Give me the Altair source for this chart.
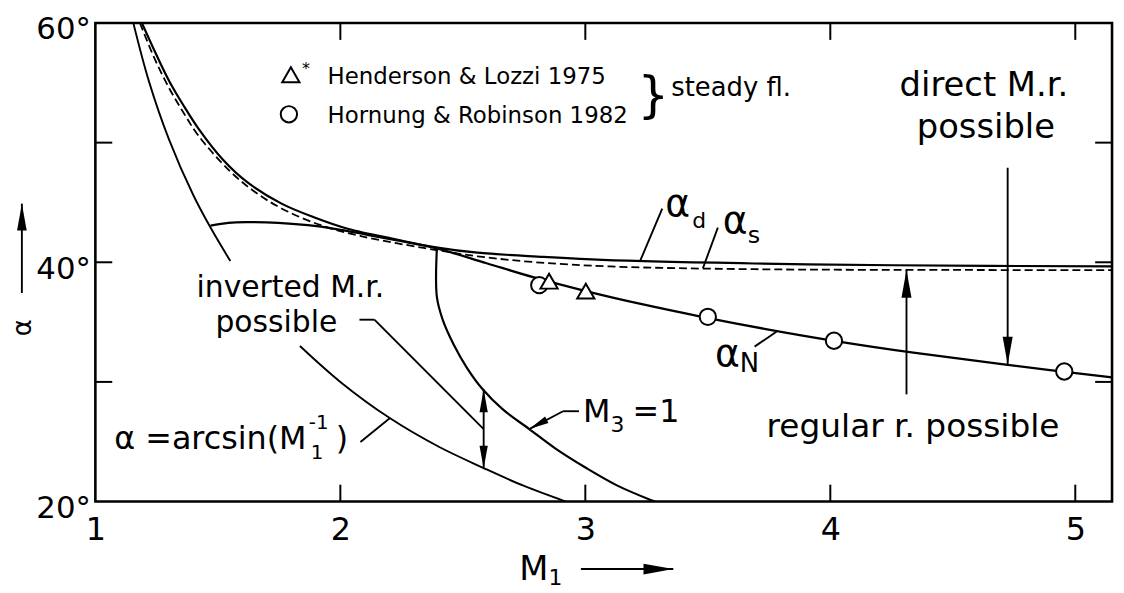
import altair as alt
import pandas as pd

FONT = "DejaVu Sans"
X_DOMAIN = [1, 5.15]
Y_DOMAIN = [20, 60]

# ---------------- curves ----------------
# Mach line  alpha = arcsin(1/M1)  (interrupted by the "inverted M.r. possible" text)
mach1_M = [1.155, 1.219, 1.30, 1.40, 1.47, 1.551]
mach1_a = [60.0, 55.1, 50.3, 45.6, 42.9, 40.1]
mach2_M = [1.835, 2.00, 2.20, 2.40, 2.585, 2.75, 2.92]
mach2_a = [33.0, 30.0, 27.0, 24.6, 22.8, 21.3, 20.0]

# alpha_d (solid)
d_M = [1.19, 1.25, 1.30, 1.36, 1.42, 1.52, 1.62, 1.76, 1.90, 2.03, 2.23, 2.39, 2.56, 2.83, 3.07, 3.69, 4.26, 5.15]
d_a = [60.0, 57.3, 55.2, 53.1, 51.2, 48.6, 46.7, 44.9, 43.7, 42.8, 41.9, 41.25, 40.8, 40.45, 40.2, 39.9, 39.75, 39.65]

# alpha_s (dashed)
s_M = [1.182, 1.24, 1.30, 1.36, 1.42, 1.55, 1.65, 1.76, 1.92, 2.08, 2.34, 2.56, 2.80, 3.10, 3.69, 4.50, 5.15]
s_a = [60.0, 57.1, 54.6, 52.5, 50.6, 47.6, 45.9, 44.5, 43.1, 42.2, 41.2, 40.5, 40.0, 39.65, 39.42, 39.36, 39.34]

# alpha_N (solid)
n_M = [1.47, 1.543, 1.624, 1.746, 1.867, 1.977, 2.11, 2.232, 2.394, 2.597, 2.787, 3.002, 3.245,
       3.476, 3.731, 4.015, 4.339, 4.716, 5.15]
n_a = [43.07, 43.3, 43.35, 43.3, 43.1, 42.8, 42.3, 41.83, 41.16, 39.92, 38.76, 37.59, 36.43,
       35.44, 34.44, 33.44, 32.45, 31.45, 30.37]

# M3 = 1
m3_M = [2.394, 2.394, 2.418, 2.463, 2.516, 2.581, 2.662, 2.771, 2.880, 3.002, 3.131, 3.273, 3.306]
m3_a = [41.16, 37.10, 35.19, 33.11, 31.20, 29.38, 27.72, 26.06, 24.40, 22.82, 21.33, 20.08, 19.83]

# experiments
hl_M = [2.852, 3.002]                 # Henderson & Lozzi 1975 (triangles)
hl_a = [38.42, 37.59]
hr_M = [2.812, 3.50, 4.015, 4.955]    # Hornung & Robinson 1982 (circles)
hr_a = [38.09, 35.44, 33.44, 30.87]

# axis ticks / labels
x_label_vals = [1, 2, 3, 4, 5]
x_tick_vals = [2, 3, 4, 5]
y_label_vals = [20, 40, 60]
y_tick_vals = [30, 40, 50]

# ---------------- annotations (data coordinates) ----------------
txt_left_t = ["inverted M.r.", "possible", "\u03b1 =arcsin(M", "1", "-1", ")",
              "M", "3", "=1", "regular r. possible",
              "\u03b1", "d", "\u03b1", "s", "\u03b1", "N",
              "Henderson & Lozzi 1975", "Hornung & Robinson 1982", "*", "}", "steady fl.",
              "M", "1"]
txt_left_M = [1.413, 1.490, 1.077, 1.879, 1.871, 1.981,
              2.990, 3.103, 3.193, 3.740,
              3.326, 3.436, 3.561, 3.663, 3.529, 3.630,
              1.948, 1.948, 1.843, 3.213, 3.351,
              2.730, 2.850]
txt_left_a = [37.10, 34.19, 24.40, 23.57, 26.06, 24.40,
              26.64, 25.81, 26.64, 25.39,
              43.90, 42.90, 42.41, 41.58, 31.29, 30.79,
              54.94, 51.62, 55.77, 52.60, 53.94,
              13.44, 13.03]
txt_left_s = [30, 30, 32, 20, 20, 32,
              32, 22, 32, 33,
              38, 22, 38, 24, 38, 26,
              23, 23, 16, 50, 26,
              34, 22]

txt_c_t = ["direct M.r.", "possible"]
txt_c_M = [4.627, 4.635]
txt_c_a = [53.86, 50.37]

# straight segments (arrow shafts, leader lines)
seg_M = [2.585, 4.311, 4.724, 0.700, 2.982, 3.314, 3.541, 3.691, 2.078, 2.139, 2.082, 2.974, 2.909]
seg_a = [22.76, 28.96, 47.90, 37.43, 14.36, 44.48, 42.90, 32.95, 35.20, 35.20, 24.98, 27.55, 27.55]
seg_M2 = [2.585, 4.311, 4.724, 0.700, 3.359, 3.225, 3.480, 3.780, 2.139, 2.585, 2.204, 2.909, 2.771]
seg_a2 = [29.38, 39.35, 31.45, 44.90, 14.36, 40.17, 39.50, 34.20, 35.20, 26.06, 27.00, 27.55, 26.06]

# arrow heads (tip position, direction in degrees clockwise from up)
head_M = [2.585, 2.585, 2.771, 4.311, 4.724, 0.700, 3.359]
head_a = [29.38, 22.76, 26.06, 39.35, 31.45, 44.90, 14.36]
head_ang = [0, 180, 242, 0, 180, 0, 90]
head_len = [23, 23, 20, 28, 28, 27, 30]

# legend symbols
leg_tri_M, leg_tri_a = [1.798], [55.68]
leg_circ_M, leg_circ_a = [1.790], [52.37]

# ---------------- helpers ----------------
def X(field="M", axis=None):
    return alt.X(f"{field}:Q", scale=alt.Scale(domain=X_DOMAIN, nice=False, zero=False), axis=axis)


def Y(field="a", axis=None):
    return alt.Y(f"{field}:Q", scale=alt.Scale(domain=Y_DOMAIN, nice=False, zero=False), axis=axis)


axis_common = dict(domain=False, grid=False, ticks=False, title=None, labelFont=FONT,
                   labelColor="black", labelFlush=False, labelOverlap=False)
ax_bottom = alt.Axis(orient="bottom", values=x_label_vals, labelPadding=13, labelFontSize=32,
                     **axis_common)
ax_left = alt.Axis(orient="left", values=y_label_vals, labelPadding=5, labelFontSize=31,
                   labelBaseline="alphabetic", labelOffset=16,
                   labelExpr="datum.value + '\u00b0'", **axis_common)


def curve(M, a, dash=None, width=2.2, xaxis=None, yaxis=None):
    df = pd.DataFrame({"M": M, "a": a, "i": list(range(len(M)))})
    mk = dict(color="black", strokeWidth=width, interpolate="catmull-rom", clip=True)
    if dash:
        mk["strokeDash"] = dash
    return alt.Chart(df).mark_line(**mk).encode(x=X(axis=xaxis), y=Y(axis=yaxis), order="i:Q")


layers = []
layers.append(curve(d_M, d_a, width=2.2, xaxis=ax_bottom, yaxis=ax_left))
layers.append(curve(n_M, n_a, width=2.3))
layers.append(curve(s_M, s_a, dash=[8, 4], width=1.8))
layers.append(curve(mach1_M, mach1_a, width=1.9))
layers.append(curve(mach2_M, mach2_a, width=1.9))
layers.append(curve(m3_M, m3_a, width=2.2))

# inward tick marks on all four sides
xt_df = pd.DataFrame({"M": x_tick_vals})
yt_df = pd.DataFrame({"a": y_tick_vals})
tick_style = dict(color="black", strokeWidth=2)
layers.append(alt.Chart(xt_df).mark_rule(**tick_style).encode(x=X(), y=alt.value(482), y2=alt.value(465)))
layers.append(alt.Chart(xt_df).mark_rule(**tick_style).encode(x=X(), y=alt.value(0), y2=alt.value(17)))
layers.append(alt.Chart(yt_df).mark_rule(**tick_style).encode(y=Y(), x=alt.value(0), x2=alt.value(17)))
layers.append(alt.Chart(yt_df).mark_rule(**tick_style).encode(y=Y(), x=alt.value(1024), x2=alt.value(1007)))

# segments
seg_df = pd.DataFrame({"M": seg_M, "a": seg_a, "M2": seg_M2, "a2": seg_a2})
layers.append(alt.Chart(seg_df).mark_rule(color="black", strokeWidth=1.9).encode(
    x=X(), y=Y(), x2=alt.X2("M2:Q"), y2=alt.Y2("a2:Q")))

# arrow heads
head_df = pd.DataFrame({"M": head_M, "a": head_a, "ang": head_ang,
                        "sz": [L * L for L in head_len]})
layers.append(alt.Chart(head_df).mark_point(
    shape="M0,0L0.36,2L-0.36,2Z", filled=True, color="black", opacity=1, strokeWidth=0).encode(
    x=X(), y=Y(), angle=alt.Angle("ang:Q", scale=None), size=alt.Size("sz:Q", scale=None)))

# experimental points (+ legend symbols)
hr_df = pd.DataFrame({"M": hr_M + leg_circ_M, "a": hr_a + leg_circ_a})
hl_df = pd.DataFrame({"M": hl_M + leg_tri_M, "a": hl_a + leg_tri_a})
layers.append(alt.Chart(hr_df).mark_point(shape="circle", size=270, fill="white", stroke="black",
                                          strokeWidth=2, opacity=1, fillOpacity=1).encode(x=X(), y=Y()))
layers.append(alt.Chart(hl_df).mark_point(shape="triangle-up", size=300, fill="white", stroke="black",
                                          strokeWidth=2, opacity=1, fillOpacity=1).encode(x=X(), y=Y()))

# texts
tl_df = pd.DataFrame({"M": txt_left_M, "a": txt_left_a, "t": txt_left_t, "s": txt_left_s})
layers.append(alt.Chart(tl_df).mark_text(align="left", baseline="alphabetic", font=FONT,
                                         color="black").encode(
    x=X(), y=Y(), text="t:N", size=alt.Size("s:Q", scale=None)))
tc_df = pd.DataFrame({"M": txt_c_M, "a": txt_c_a, "t": txt_c_t})
layers.append(alt.Chart(tc_df).mark_text(align="center", baseline="alphabetic", font=FONT,
                                         color="black", fontSize=34).encode(
    x=X(), y=Y(), text="t:N"))

# y-axis title (rotated alpha)
ytitle_df = pd.DataFrame({"M": [0.704], "a": [34.52], "t": ["\u03b1"]})
layers.append(alt.Chart(ytitle_df).mark_text(align="center", baseline="middle", font=FONT, angle=270,
                                             color="black", fontSize=26).encode(
    x=X(), y=Y(), text="t:N"))

chart = alt.layer(*layers).resolve_axis(x="independent", y="independent").properties(
    width=1024, height=482,
    autosize=alt.AutoSizeParams(type="none"),
    padding={"left": 88, "top": 13, "right": 4, "bottom": 90},
    background="white",
).configure_view(stroke="black", strokeWidth=2.6)

chart.save("out.html", embed_options={"renderer": "svg", "actions": False})
